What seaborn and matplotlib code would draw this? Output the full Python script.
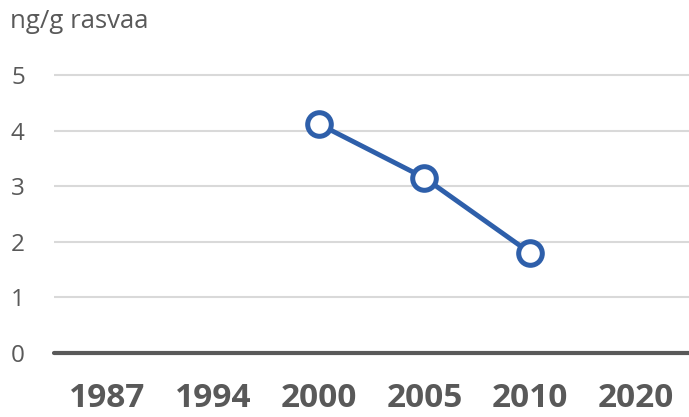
import matplotlib
matplotlib.use("Agg")
import matplotlib.pyplot as plt
import seaborn as sns
import pandas as pd

years = ["1987", "1994", "2000", "2005", "2010", "2020"]
data_years = ["2000", "2005", "2010"]
values = [4.12, 3.15, 1.80]
y_ticks = [0, 1, 2, 3, 4, 5]
y_label = "ng/g rasvaa"

sns.set_theme(style="white")
plt.rcParams["font.family"] = ["Open Sans", "DejaVu Sans"]

blue = "#2e5faa"
gray_text = "#595959"

fig = plt.figure(figsize=(6.89, 4.17), dpi=100)
ax = fig.add_axes([54 / 689, (417 - 353) / 417, 1 - 54 / 689, 280.8 / 417])

df = pd.DataFrame({"year": data_years, "value": values})
df["pos"] = df["year"].map(years.index)

ax.set_axisbelow(True)
for t in y_ticks[1:]:
    ax.axhline(t, color="#d9d9d9", lw=1.5, zorder=0)
ax.axhline(0, color="#595959", lw=3, solid_capstyle="round", zorder=1, clip_on=False)

sns.lineplot(data=df, x="pos", y="value", ax=ax, color=blue, linewidth=3.5,
             marker="o", markersize=17, markerfacecolor="white",
             markeredgecolor=blue, markeredgewidth=3.6, zorder=3)

ax.set_xlim(-0.5, 5.5)
ax.set_ylim(0, 5.05)
ax.set_xticks(range(len(years)))
ax.set_xticklabels(years, fontsize=24, fontweight="bold", color=gray_text)
ax.set_yticks(y_ticks)
ax.set_yticklabels([str(t) for t in y_ticks], fontsize=17.5, color=gray_text)
ax.tick_params(axis="y", length=0, pad=21)
ax.tick_params(axis="x", length=0, pad=21)
ax.set_xlabel("")
ax.set_ylabel("")
for s in ax.spines.values():
    s.set_visible(False)

fig.text(10 / 689, 1 - 22 / 417, y_label, fontsize=18.5, color=gray_text, va="center", ha="left")

fig.savefig("out.png", dpi=100)
